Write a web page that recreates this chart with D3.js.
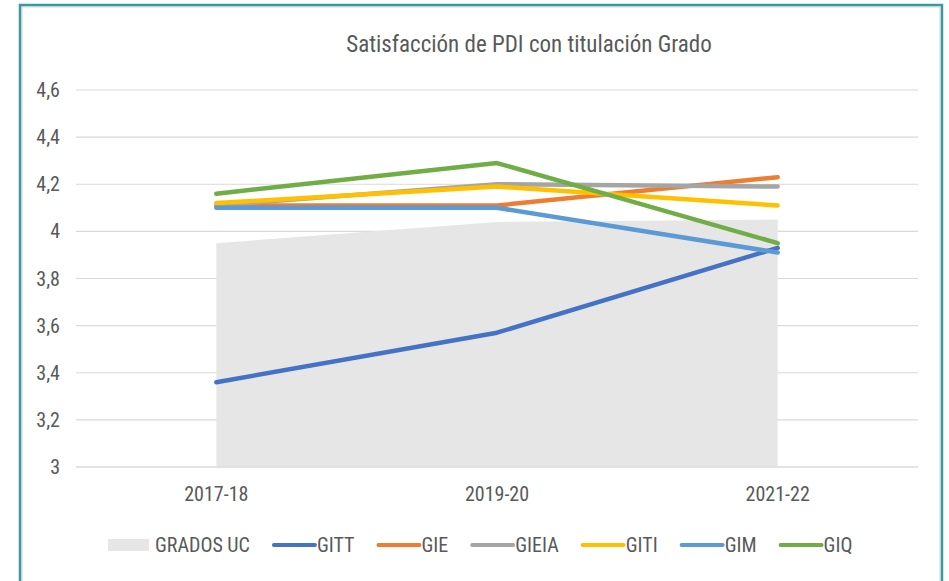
<!DOCTYPE html>
<html lang="es">
<head>
<meta charset="UTF-8">
<title>Satisfacción de PDI con titulación Grado</title>
<script src="https://cdn.jsdelivr.net/npm/d3@7"></script>
<style>
    body { margin: 0; background: #fff; }
    svg text { font-family: "Liberation Sans Narrow", "Roboto Condensed", "DejaVu Sans Condensed", sans-serif; fill: #595959; }
</style>
</head>
<body>
<svg id="chart" width="949" height="581"></svg>
<script>
    // data
    const years = ["2017-18", "2019-20", "2021-22"];
    const gradosUC = [3.95, 4.04, 4.05];
    const gitt = [3.36, 3.57, 3.93];
    const gie = [4.11, 4.11, 4.23];
    const gieia = [4.11, 4.20, 4.19];
    const giti = [4.12, 4.19, 4.11];
    const gim = [4.10, 4.10, 3.91];
    const giq = [4.16, 4.29, 3.95];
    const yTicks = [3, 3.2, 3.4, 3.6, 3.8, 4, 4.2, 4.4, 4.6];

    const lines = [
        { name: "GITT", values: gitt, color: "#4472C4" },
        { name: "GIE", values: gie, color: "#ED7D31" },
        { name: "GIEIA", values: gieia, color: "#A5A5A5" },
        { name: "GITI", values: giti, color: "#FFC000" },
        { name: "GIM", values: gim, color: "#5B9BD5" },
        { name: "GIQ", values: giq, color: "#70AD47" }
    ];

    const svg = d3.select("#chart");
    const plotL = 76, plotR = 918, plotT = 90, plotB = 467;

    // frame
    svg.append("rect").attr("x", 22).attr("y", 7).attr("width", 918).attr("height", 590)
        .attr("fill", "none").attr("stroke", "#e4e4e4").attr("stroke-width", 1.5);
    svg.append("rect").attr("x", 20).attr("y", 5).attr("width", 922).attr("height", 600)
        .attr("fill", "none").attr("stroke", "#3a9aa0").attr("stroke-width", 2.5);

    const x = d3.scaleBand().domain(years).range([plotL, plotR]);
    const y = d3.scaleLinear().domain([3, 4.6]).range([plotB, plotT]);
    const cx = d => x(d) + x.bandwidth() / 2;

    svg.append("text").attr("x", 529).attr("y", 52).attr("text-anchor", "middle")
        .style("font-size", "23px").text("Satisfacción de PDI con titulación Grado");

    // gridlines
    svg.append("g").selectAll("line").data(yTicks).join("line")
        .attr("x1", plotL).attr("x2", plotR)
        .attr("y1", d => y(d)).attr("y2", d => y(d))
        .attr("stroke", "#d9d9d9").attr("stroke-width", 1.2);

    // area
    const area = d3.area().x((d, i) => cx(years[i])).y0(y(3)).y1(d => y(d));
    svg.append("path").datum(gradosUC).attr("d", area).attr("fill", "#e7e6e6");

    svg.append("line").attr("x1", plotL).attr("x2", plotR)
        .attr("y1", y(3)).attr("y2", y(3)).attr("stroke", "#d9d9d9").attr("stroke-width", 1.2);

    // y labels
    svg.append("g").selectAll("text").data(yTicks).join("text")
        .attr("x", 60).attr("y", d => y(d)).attr("dy", "0.35em").attr("text-anchor", "end")
        .style("font-size", "20px")
        .text(d => d3.format("")(d).replace(".", ","));

    // x labels
    svg.append("g").selectAll("text").data(years).join("text")
        .attr("x", d => cx(d)).attr("y", 494).attr("dy", "0.35em").attr("text-anchor", "middle")
        .style("font-size", "20px").text(d => d);

    // lines
    const line = d3.line().x((d, i) => cx(years[i])).y(d => y(d));
    svg.append("g").selectAll("path").data(lines).join("path")
        .attr("d", d => line(d.values))
        .attr("fill", "none").attr("stroke", d => d.color)
        .attr("stroke-width", 4.5).attr("stroke-linecap", "round").attr("stroke-linejoin", "round");

    // legend
    const leg = svg.append("g");
    const ly = 545;
    let lx = 108;
    leg.append("rect").attr("x", lx).attr("y", ly - 6).attr("width", 41).attr("height", 12).attr("fill", "#e7e6e6");
    let t = leg.append("text").attr("x", lx + 47).attr("y", ly).attr("dy", "0.35em")
        .style("font-size", "20px").text("GRADOS UC");
    lx = lx + 47 + t.node().getComputedTextLength() + 22;
    lines.forEach(s => {
        leg.append("line").attr("x1", lx + 2).attr("x2", lx + 43).attr("y1", ly).attr("y2", ly)
            .attr("stroke", s.color).attr("stroke-width", 4).attr("stroke-linecap", "round");
        const tt = leg.append("text").attr("x", lx + 45).attr("y", ly).attr("dy", "0.35em")
            .style("font-size", "20px").text(s.name);
        lx = lx + 45 + tt.node().getComputedTextLength() + 22;
    });
</script>
</body>
</html>
